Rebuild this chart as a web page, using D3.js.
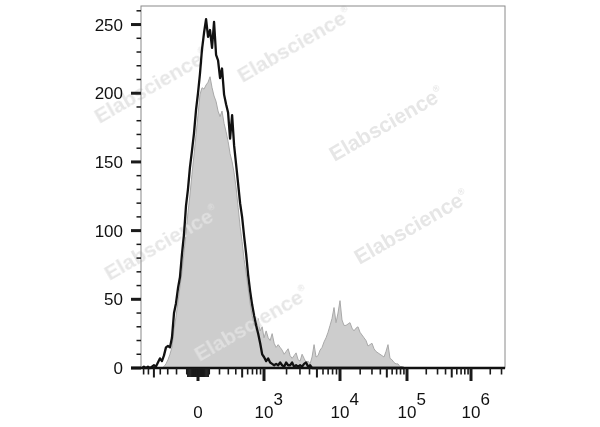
<!DOCTYPE html>
<html>
<head>
<meta charset="utf-8">
<script src="https://cdn.jsdelivr.net/npm/d3@7"></script>
<style>
html,body{margin:0;padding:0;background:#fff;}
svg{display:block;}
</style>
</head>
<body>
<svg id="chart" width="600" height="427"></svg>
<script>
// ---------- DATA ----------
// histogram bin centres (fluorescence intensity, biexponential display)
const binValues = [-738,-693,-650,-609,-571,-534,-499,-466,-435,-405,-376,-349,-322,-297,-273,-250,-227,-206,-185,-165,-145,-126,-107,-89,-71,-53,-35,-17,0,
  17,35,53,71,89,107,126,145,165,185,206,227,250,273,297,322,349,376,405,435,466,499,534,571,609,650,693,738,786,837,890,946,1000,
  1070,1139,1211,1288,1370,1456,1548,1646,1749,1858,1974,2098,2228,2367,2514,2670,2836,3012,3199,3397,3608,3831,4069,4320,4588,4871,5172,5492,5832,6193,6575,6981,7413,7870,8356,8873,9420,10000,
  10710,11470,12290,13160,14100,15110,16180,17330,18570,19890,21310,22820,24450,26180,28040,30040,32180,34460,36920,39540,42360,45370,48600,52050,55760,59720,63970,68520,73390,78610,84200,90210];
// unstained control (black outline)
const controlCounts = [0,1,0,1,0,1,2,1,4,7,5,9,15,16,15,22,40,47,58,66,83,97,118,130,146,158,171,188,200,
  214,232,244,254,241,246,233,252,228,224,211,218,199,192,186,167,184,162,148,134,120,110,96,83,68,56,46,38,31,25,18,10,8,
  5,7,4,3,2,3,2,4,2,1,4,2,2,4,1,2,1,2,1,3,4,1,2,0,0,0,0,0,0,0,0,0,0,0,0,0,0,0,
  0,0,0,0,0,0,0,0,0,0,0,0,0,0,0,0,0,0,0,0,0,0,0,0,0,0,0,0,0,0,0,0];
// stained sample (grey filled)
const stainedCounts = [0,0,0,0,0,0,0,0,0,0,0,1,3,6,10,15,28,37,48,59,70,84,98,113,126,141,155,170,184,
  199,204,203,206,208,212,204,198,194,187,183,187,178,172,165,156,150,142,131,117,103,92,79,69,58,47,38,32,28,36,27,30,22,
  27,22,20,25,18,15,17,15,13,10,12,14,9,7,9,11,6,5,10,7,4,5,3,8,17,8,9,13,15,19,22,26,31,36,44,33,40,49,
  35,31,31,32,33,29,27,29,30,26,24,22,20,16,17,18,14,12,11,10,9,8,12,17,7,6,4,3,3,1,1,0];
const yTickValues = [0, 50, 100, 150, 200, 250];
const xTickValues = [0, 1e3, 1e4, 1e5, 1e6];
const xTickExponents = ["", "3", "4", "5", "6"];
const xDomainMin = -760, xDomainMax = 3.4e6, yDomainMax = 263.5;
const watermarkText = "Elabscience";

// ---------- LAYOUT ----------
const plot = {left: 141, right: 505, top: 6, bottom: 368};
const watermarkSpots = [[298,51],[390,130],[155,92],[415,233],[165,249],[255,330]];

const svg = d3.select("#chart");
const font = "'Liberation Sans', Arial, Helvetica, sans-serif";

// biexponential-like transform
const W = 300;
const T = v => Math.asinh(v / W);
const xs = d3.scaleLinear()
  .domain([xDomainMin, 0, 1e3, 1e4, 1e5, 1e6, xDomainMax].map(T))
  .range([plot.left, 198, 264, 340, 407, 471, plot.right]);
const x = v => xs(T(v));
const y = d3.scaleLinear().domain([0, yDomainMax]).range([plot.bottom, plot.top]);

const stained = binValues.map((v, i) => ({v, c: stainedCounts[i]}));
const control = binValues.map((v, i) => ({v, c: controlCounts[i]}));

// grey filled histogram
svg.append("path")
  .datum(stained)
  .attr("d", d3.area().x(d => x(d.v)).y0(y(0)).y1(d => y(d.c)))
  .attr("fill", "#cdcdcd")
  .attr("stroke", "#a9a9a9")
  .attr("stroke-width", 1)
  .attr("stroke-linejoin", "round");

// watermarks
const wm = svg.append("g").attr("font-family", font).attr("font-weight", "bold")
  .attr("fill", "#e2e2e2").attr("opacity", 0.85);
watermarkSpots.forEach(([cx, cy]) => {
  const t = wm.append("text")
    .attr("transform", `translate(${cx},${cy}) rotate(-30)`)
    .attr("text-anchor", "middle")
    .attr("font-size", 21);
  t.append("tspan").text(watermarkText);
  t.append("tspan").attr("font-size", 9).attr("dy", -10).text("®");
});

// black control outline
svg.append("path")
  .datum(control)
  .attr("d", d3.line().x(d => x(d.v)).y(d => y(d.c)))
  .attr("fill", "none")
  .attr("stroke", "#111")
  .attr("stroke-width", 2.3)
  .attr("stroke-linejoin", "round");

// frame
svg.append("rect")
  .attr("x", plot.left).attr("y", plot.top)
  .attr("width", plot.right - plot.left).attr("height", plot.bottom - plot.top)
  .attr("fill", "none").attr("stroke", "#8a8a8a").attr("stroke-width", 1);

// y ticks
const yMinor = d3.range(0, yDomainMax, 10);
svg.append("g").selectAll("line").data(yMinor).join("line")
  .attr("x1", d => d % 50 === 0 ? plot.left - 10 : plot.left - 4.5)
  .attr("x2", plot.left)
  .attr("y1", d => y(d)).attr("y2", d => y(d))
  .attr("stroke", "#1a1a1a")
  .attr("stroke-width", d => d % 50 === 0 ? 3 : 1.5);
svg.append("g").selectAll("text").data(yTickValues).join("text")
  .attr("x", plot.left - 18).attr("y", d => y(d)).attr("dy", "0.36em")
  .attr("text-anchor", "end")
  .attr("font-family", font).attr("font-size", 17).attr("fill", "#111")
  .text(d => d);

// x axis line
svg.append("line")
  .attr("x1", plot.left - 10).attr("x2", plot.right)
  .attr("y1", plot.bottom).attr("y2", plot.bottom)
  .attr("stroke", "#111").attr("stroke-width", 2.6);

// x ticks (biexponential minor ticks)
const xMarks = [{v: 0, kind: "major"}];
[10, 100, 1e3, 1e4, 1e5, 1e6].forEach(d => {
  for (let m = 1; m <= 9; m++) {
    [1, -1].forEach(s => {
      const v = s * m * d;
      if (v < xDomainMin || v > xDomainMax) return;
      let kind = "minor";
      if (d === 10) kind = "cluster";
      else if (m === 1 && d >= 1e3 && s > 0) kind = "major";
      else if (m === 5) kind = "mid";
      xMarks.push({v, kind});
    });
  }
});
const tickLen = {major: 13, mid: 9.5, minor: 6.5, cluster: 9};
const tickW = {major: 3, mid: 2, minor: 1.6, cluster: 1.6};
svg.append("g").selectAll("line").data(xMarks).join("line")
  .attr("x1", d => x(d.v)).attr("x2", d => x(d.v))
  .attr("y1", plot.bottom).attr("y2", d => plot.bottom + tickLen[d.kind])
  .attr("stroke", "#1a1a1a")
  .attr("stroke-width", d => tickW[d.kind]);

// x labels
const xl = svg.append("g").attr("font-family", font).attr("font-size", 17).attr("fill", "#111");
xTickValues.forEach((v, i) => {
  if (v === 0) {
    xl.append("text").attr("x", x(v)).attr("y", 418).attr("text-anchor", "middle").text("0");
  } else {
    const t = xl.append("text").attr("x", x(v) - 9.5).attr("y", 418);
    t.append("tspan").text("10");
    t.append("tspan").attr("dy", -13).text(xTickExponents[i]);
  }
});
</script>
</body>
</html>
